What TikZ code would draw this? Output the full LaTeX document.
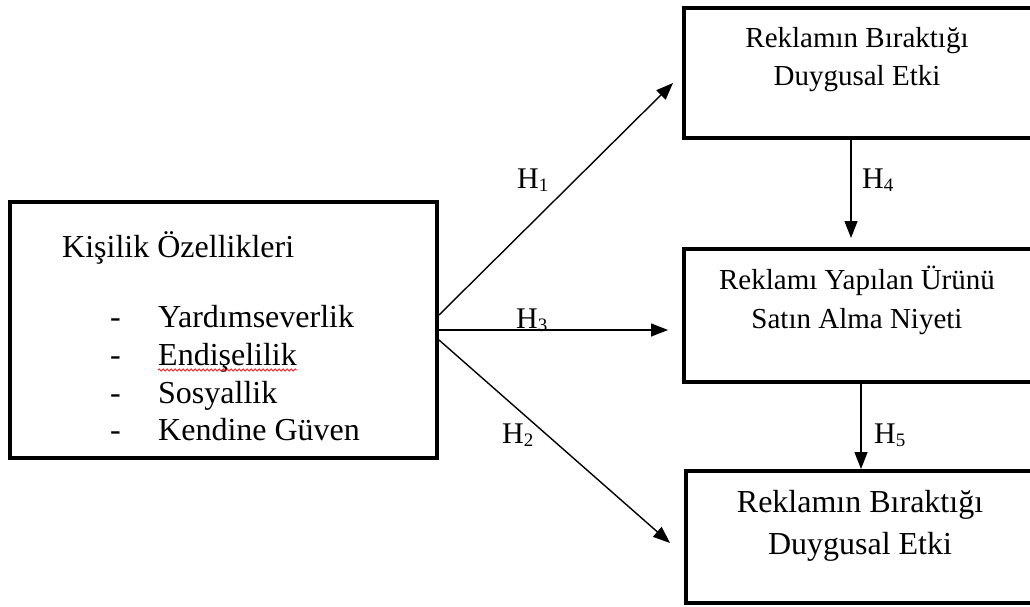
\documentclass[tikz,border=0pt]{standalone}
\usepackage{fontspec}
\setmainfont{Liberation Serif}
\usetikzlibrary{arrows.meta,decorations.pathmorphing}
\newcommand\hlab[1]{H\raisebox{-3pt}{\fontsize{19}{19}\selectfont #1}}
\tikzset{
  box/.style={draw, line width=4pt, inner sep=0pt},
  arr/.style={line width=1.4pt, -{Triangle[length=17pt,width=13pt]}},
  txt/.style={inner sep=0pt, anchor=base west},
  ctxt/.style={inner sep=0pt, anchor=base},
  lbl/.style={inner sep=0pt, anchor=base west, font=\fontsize{30}{30}\selectfont},
  big/.style={font=\fontsize{32}{32}\selectfont},
  mid/.style={font=\fontsize{29}{29}\selectfont},
}
\begin{document}
\begin{tikzpicture}[x=1pt,y=-1pt]
\useasboundingbox (0,0) rectangle (1030,607);
% boxes
\node[box, minimum width=427pt, minimum height=256pt] (left) at (223.5,330) {};
\node[box, minimum width=350pt, minimum height=130pt] (top) at (859,73) {};
\node[box, minimum width=350pt, minimum height=133pt] (midb) at (859,315.5) {};
\node[box, minimum width=348pt, minimum height=132pt] (bot) at (860,537) {};
% left text
\node[txt, big] (title) at (62,257) {Kişilik Özellikleri};
\node[txt, big] (d1) at (110,327) {-};
\node[txt, big] (d2) at (110,365) {-};
\node[txt, big] (d3) at (110,403) {-};
\node[txt, big] (d4) at (110,440) {-};
\node[txt, big] (i1) at (158,327) {Yardımseverlik};
\node[txt, big] (i2) at (158,365) {Endişelilik};
\node[txt, big] (i3) at (158,403) {Sosyallik};
\node[txt, big] (i4) at (158,440) {Kendine Güven};
\draw[red, line width=0.7pt, decorate, decoration={snake, amplitude=1.1pt, segment length=4pt}]
  ([yshift=-5pt]i2.base west) -- ([yshift=-5pt]i2.base east);
% right texts
\node[ctxt, mid] (t1a) at (857,48) {Reklamın Bıraktığı};
\node[ctxt, mid] (t1b) at (857,86) {Duygusal Etki};
\node[ctxt, mid] (t2a) at (857,289) {Reklamı Yapılan Ürünü};
\node[ctxt, mid] (t2b) at (857,328) {Satın Alma Niyeti};
\node[ctxt, big] (t3a) at (860,512) {Reklamın Bıraktığı};
\node[ctxt, big] (t3b) at (860,554) {Duygusal Etki};
% arrow ends
\coordinate (e1) at (673,83);
\coordinate (e3) at (668,330);
\coordinate (e2) at (670,543);
\coordinate (e4) at (851,238);
\coordinate (x5) at (861,0);
\draw[arr] ([yshift=15pt]left.east) -- (e1);
\draw[arr] (left.east) -- (e3);
\draw[arr] ([yshift=-10pt]left.east) -- (e2);
\draw[arr] (e4 |- top.south) -- (e4);
\draw[arr] (x5 |- midb.south) -- (x5 |- bot.north);
% labels
\node[lbl] (h1) at (517,188) {\hlab{1}};
\node[lbl] (h3) at (516,328) {\hlab{3}};
\node[lbl] (h2) at (502,443) {\hlab{2}};
\node[lbl] (h4) at (862,188) {\hlab{4}};
\node[lbl] (h5) at (874,443) {\hlab{5}};
\end{tikzpicture}
\end{document}
